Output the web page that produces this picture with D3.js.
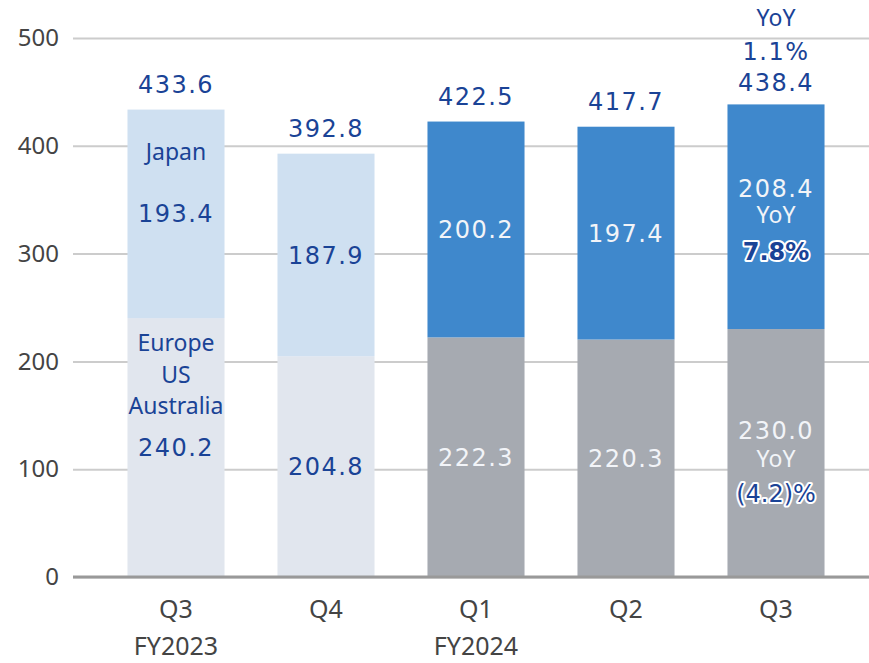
<!DOCTYPE html>
<meta charset="utf-8">
<style>
  body { margin: 0; background: #fff; }
  .grid line { stroke: #cccccc; stroke-width: 2; }
  .grid path { display: none; }
  .grid text { font-family: "Noto Sans", sans-serif; font-size: 24px; fill: #444; }
  .xaxis path, .xaxis line { display: none; }
  .xaxis text { font-family: "Noto Sans", sans-serif; font-size: 25px; fill: #444; }
  .val { font-family: "DejaVu Sans", Verdana, sans-serif; font-size: 24px; letter-spacing: 1.5px; }
  .lbl { font-family: "Noto Sans", sans-serif; font-size: 23px; }
  .halo { paint-order: stroke; stroke: #fff; stroke-width: 4px; stroke-linejoin: round; }
</style>
<body>
<svg id="chart" width="869" height="663"></svg>
<script src="https://cdnjs.cloudflare.com/ajax/libs/d3/7.8.5/d3.min.js"></script>
<script>
var quarters = ["Q3", "Q4", "Q1", "Q2", "Q3"];
var fiscalYears = ["FY2023", "", "FY2024", "", ""];
var overseas = [240.2, 204.8, 222.3, 220.3, 230.0];
var japan = [193.4, 187.9, 200.2, 197.4, 208.4];
var totals = [433.6, 392.8, 422.5, 417.7, 438.4];
var yTicks = [0, 100, 200, 300, 400, 500];

var blue = "#1a4396";
var svg = d3.select("#chart");

var x = d3.scaleBand()
  .domain(d3.range(quarters.length))
  .range([101, 851])
  .paddingInner(0.353)
  .paddingOuter(0.1765);

var y = d3.scaleLinear().domain([0, 500]).range([577, 38]);

// gridlines + y labels
svg.append("g")
  .attr("class", "grid")
  .attr("transform", "translate(73,0)")
  .call(d3.axisLeft(y).tickValues(yTicks).tickSize(-796).tickPadding(14));

// bars
var old = function (i) { return i < 2; };
var g = svg.append("g");
g.selectAll(".ov").data(overseas).enter().append("rect")
  .attr("x", function (d, i) { return x(i); })
  .attr("width", x.bandwidth())
  .attr("y", function (d) { return y(d); })
  .attr("height", function (d) { return y(0) - y(d); })
  .attr("fill", function (d, i) { return old(i) ? "#e1e6ee" : "#a6aab1"; });

g.selectAll(".jp").data(japan).enter().append("rect")
  .attr("x", function (d, i) { return x(i); })
  .attr("width", x.bandwidth())
  .attr("y", function (d, i) { return y(d + overseas[i]); })
  .attr("height", function (d) { return y(0) - y(d); })
  .attr("fill", function (d, i) { return old(i) ? "#cfe0f1" : "#3f88cc"; });

// baseline
svg.append("line")
  .attr("x1", 73).attr("x2", 869)
  .attr("y1", y(0)).attr("y2", y(0))
  .attr("stroke", "#999").attr("stroke-width", 3);

// x axis
svg.append("g")
  .attr("class", "xaxis")
  .attr("transform", "translate(0," + y(0) + ")")
  .call(d3.axisBottom(x).tickSize(0).tickPadding(23).tickFormat(function (i) { return quarters[i]; }));

svg.selectAll(".fy").data(fiscalYears).enter().append("text")
  .attr("x", function (d, i) { return x(i) + x.bandwidth() / 2; })
  .attr("y", 655)
  .attr("text-anchor", "middle")
  .style("font-family", "'Noto Sans', sans-serif")
  .style("font-size", "25px")
  .attr("fill", "#444")
  .text(function (d) { return d; });

function txt(cls, cx, cy, s, fill) {
  return svg.append("text")
    .attr("class", cls)
    .attr("x", cx).attr("y", cy)
    .attr("dy", "0.36em")
    .attr("text-anchor", "middle")
    .attr("fill", fill)
    .text(s);
}

var last = quarters.length - 1;

// totals
totals.forEach(function (d, i) {
  var cx = x(i) + x.bandwidth() / 2;
  var top = y(overseas[i] + japan[i]);
  var off = i === last ? 22 : 25;
  txt("val", cx, top - off, d.toFixed(1), blue);
});

// japan values
japan.forEach(function (d, i) {
  var cx = x(i) + x.bandwidth() / 2;
  var mid = (y(overseas[i]) + y(overseas[i] + d)) / 2;
  if (i === last) mid -= 28;
  txt("val", cx, mid, d.toFixed(1), old(i) ? blue : "#f2f4f8");
});

// overseas values
overseas.forEach(function (d, i) {
  var cx = x(i) + x.bandwidth() / 2;
  var mid = (y(0) + y(d)) / 2;
  if (i === last) mid -= 23;
  txt("val", cx, mid, d.toFixed(1), old(i) ? blue : "#f2f4f8");
});

// region names on the first bar
var c0 = x(0) + x.bandwidth() / 2;
txt("lbl", c0, 152, "Japan", blue);
txt("lbl", c0, 343, "Europe", blue);
txt("lbl", c0, 375, "US", blue);
txt("lbl", c0, 406, "Australia", blue);

// YoY notes on the latest quarter
var cl = x(last) + x.bandwidth() / 2;
var topL = y(totals[last]);
txt("lbl", cl, topL - 87, "YoY", blue);
txt("val", cl, topL - 53, "1.1%", blue);

var jm = (y(overseas[last]) + y(overseas[last] + japan[last])) / 2;
txt("lbl", cl, jm - 2, "YoY", "#f2f4f8");
txt("val halo", cl, jm + 35, "7.8%", blue).style("font-weight", "bold").style("letter-spacing", "0px");

var om = (y(0) + y(overseas[last])) / 2;
txt("lbl", cl, om + 6, "YoY", "#f2f4f8");
txt("val halo", cl, om + 40, "(4.2)%", blue).style("letter-spacing", "0px");
</script>
</body>
